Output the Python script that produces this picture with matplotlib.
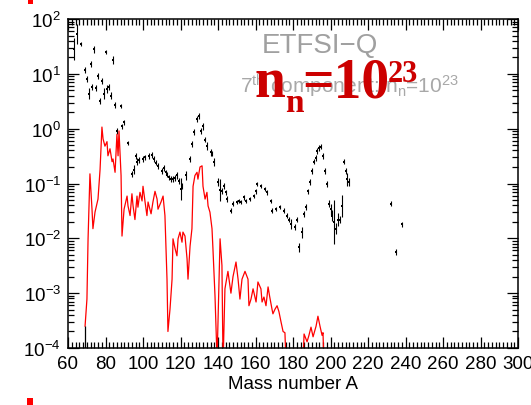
'''ETFSI-Q abundances vs mass number, 7th component n_n=1e23'''
import numpy as np
import matplotlib
matplotlib.use('Agg')
import matplotlib.pyplot as plt
from matplotlib.patches import Rectangle
from matplotlib.ticker import MultipleLocator, LogLocator, FixedLocator

plt.rcParams['font.family'] = ['Liberation Sans', 'DejaVu Sans']
plt.rcParams['mathtext.default'] = 'regular'

# observed (solar r-process) abundances with error bars, log10 error half width
obs_A = [63, 65, 67, 69, 70, 71, 72, 73, 74, 75, 76, 77, 78, 79, 80, 81, 82, 83,
         84, 85, 86, 88, 89, 90, 92, 94, 95, 96, 97, 98, 100, 101, 103, 105, 106,
         107, 108, 110, 111, 112, 113, 114, 115, 116, 117, 118, 119, 120, 121,
         123, 125, 126, 127, 129, 130, 131, 132, 133, 134, 136, 137, 138, 140,
         141, 142, 143, 144, 145, 147, 148, 150, 151, 152, 154, 155, 157, 159,
         160, 161, 163, 165, 166, 168, 169, 171, 173, 175, 177, 178, 179, 181,
         182, 183, 185, 186, 187, 188, 189, 190, 191, 192, 193, 194, 195, 196,
         197, 198, 199, 200, 201, 202, 203, 204, 205, 206, 207, 208, 209, 210,
         232, 235, 238]
obs_val = [28, 53, 35, 11.7, 8.1, 4.3, 15, 5.8, 28, 5.5, 9.1, 3.2, 7.4, 4.3, 25,
           5.3, 5.8, 4.0, 18, 2.7, 0.91, 2.6, 1.1, 1.3, 0.55, 0.15, 0.18, 0.32,
           0.25, 0.27, 0.28, 0.30, 0.32, 0.33, 0.28, 0.24, 0.21, 0.17, 0.19,
           0.16, 0.145, 0.13, 0.12, 0.12, 0.126, 0.14, 0.11, 0.079, 0.09, 0.14,
           0.28, 0.53, 0.87, 1.5, 1.7, 0.91, 1.1, 0.63, 0.48, 0.37, 0.35, 0.25,
           0.107, 0.076, 0.073, 0.09, 0.069, 0.052, 0.032, 0.043, 0.046, 0.048,
           0.046, 0.056, 0.048, 0.052, 0.059, 0.072, 0.098, 0.089, 0.079, 0.069,
           0.048, 0.032, 0.034, 0.037, 0.032, 0.026, 0.022, 0.018, 0.016, 0.022,
           0.0069, 0.013, 0.028, 0.037, 0.072, 0.107, 0.17, 0.25, 0.29, 0.39,
           0.44, 0.47, 0.32, 0.17, 0.098, 0.043, 0.034, 0.026, 0.020, 0.015,
           0.022, 0.022, 0.039, 0.25, 0.17, 0.12, 0.107, 0.043, 0.0056, 0.018]
obs_err = [0.20, 0.18, 0.04, 0.06, 0.05, 0.10, 0.06, 0.05, 0.06, 0.05, 0.05,
           0.06, 0.05, 0.10, 0.03, 0.08, 0.06, 0.06, 0.07, 0.05, 0.05, 0.04,
           0.04, 0.05, 0.04, 0.06, 0.08, 0.05, 0.06, 0.05, 0.05, 0.05, 0.05,
           0.05, 0.05, 0.05, 0.05, 0.05, 0.05, 0.05, 0.05, 0.05, 0.05, 0.05,
           0.05, 0.06, 0.05, 0.20, 0.06, 0.08, 0.05, 0.05, 0.06, 0.06, 0.05,
           0.06, 0.06, 0.05, 0.07, 0.06, 0.05, 0.07, 0.08, 0.20, 0.05, 0.05,
           0.05, 0.05, 0.05, 0.05, 0.04, 0.04, 0.04, 0.04, 0.04, 0.04, 0.04,
           0.04, 0.04, 0.04, 0.04, 0.04, 0.04, 0.04, 0.04, 0.04, 0.04, 0.05,
           0.05, 0.09, 0.05, 0.05, 0.08, 0.10, 0.05, 0.05, 0.05, 0.05, 0.05,
           0.05, 0.05, 0.05, 0.05, 0.05, 0.05, 0.06, 0.06, 0.06, 0.10, 0.10,
           0.40, 0.10, 0.12, 0.06, 0.20, 0.05, 0.06, 0.12, 0.08, 0.04, 0.05,
           0.05]

# calculated abundances of the 7th component (red curve)
calc_A = [69.1, 70.1, 70.7, 71.7, 72.8, 73.3, 74.4, 76.0, 77.1, 78.1, 78.7, 79.7,
          80.8, 81.3, 82.4, 83.5, 84.0, 85.1, 86.1, 86.7, 87.2, 88.3, 88.8, 89.9,
          91.5, 92.0, 93.1, 94.1, 94.7, 95.7, 96.8, 97.3, 98.4, 99.5, 100.0,
          101.1, 102.1, 102.7, 104.3, 105.3, 106.4, 107.5, 108.0, 109.6, 110.7,
          111.7, 112.8, 113.3, 114.4, 115.5, 116.0, 117.1, 118.1, 118.7, 119.7,
          120.8, 121.3, 122.4, 123.5, 124.0, 125.1, 126.1, 126.7, 127.7, 128.8,
          129.3, 130.4, 131.5, 132.0, 133.1, 134.1, 134.7, 135.7, 136.8, 137.3,
          138.4, 139.5, 140.0, 141.1, 142.1, 142.7, 143.7, 144.8, 145.3, 146.9,
          148.0, 149.6, 150.7, 151.7, 152.8, 154.4, 156.0, 156.5, 157.6, 158.7,
          160.3, 161.3, 162.9, 163.5, 164.5, 165.6, 166.7, 167.5, 168.8, 169.3,
          170.4, 171.5, 172.5, 173.6, 174.7, 175.7, 176.3, 180.0, 185.3, 185.9,
          187.5, 188.5, 189.6, 190.7, 192.3, 193.3, 194.4, 195.5, 196.0, 196.5]
calc_val = [2.5e-4, 7.8e-4, 9.8e-3, 0.15, 0.034, 0.015, 0.030, 0.052, 0.18, 1.07,
            0.65, 0.48, 0.58, 0.32, 0.43, 0.25, 0.28, 0.16, 0.79, 0.32, 0.91,
            0.14, 0.011, 0.034, 0.059, 0.039, 0.026, 0.065, 0.039, 0.022, 0.059,
            0.037, 0.069, 0.048, 0.089, 0.046, 0.026, 0.046, 0.028, 0.046, 0.072,
            0.052, 0.034, 0.046, 0.059, 0.026, 1.8e-3, 2.0e-4, 5.1e-4, 1.8e-3,
            9.8e-3, 6.5e-3, 4.8e-3, 9.8e-3, 0.013, 8.5e-3, 0.013, 0.011, 4.2e-3,
            1.8e-3, 7.2e-3, 0.015, 0.089, 0.14, 0.16, 0.12, 0.20, 0.21, 0.089,
            0.052, 0.069, 0.039, 0.030, 0.015, 6.5e-3, 8.9e-4, 6e-5, 3.0e-4,
            9.8e-3, 3.2e-3, 5e-5, 1.2e-3, 2.0e-3, 2.5e-3, 1.0e-3, 2.0e-3, 3.7e-3,
            1.8e-3, 7.8e-4, 1.8e-3, 2.5e-3, 1.8e-3, 5.9e-4, 7.8e-4, 1.2e-3,
            6.9e-4, 1.6e-3, 1.2e-3, 6.9e-4, 8.5e-4, 5.9e-4, 1.3e-3, 8.9e-4,
            5.1e-4, 4.2e-4, 5.1e-4, 5.9e-4, 4.6e-4, 3.0e-4, 2.0e-4, 1.9e-4, 5e-5,
            np.nan, 5e-5, 1.8e-4, 1.3e-4, 1.7e-4, 2.4e-4, 1.6e-4, 2.5e-4, 3.8e-4,
            2.5e-4, 1.7e-4, 1.9e-4, 5e-5]

x_ticks = [60, 80, 100, 120, 140, 160, 180, 200, 220, 240, 260, 280, 300]

W, H = 531, 406


def px(x, y):
    '''pixel position (from top left) to figure fraction'''
    return x / W, 1 - y / H


fig = plt.figure(figsize=(W / 100, H / 100), dpi=100)
ax = fig.add_axes([68 / W, 1 - 349 / H, 450 / W, 329 / H])

obs_val_arr = np.array(obs_val)
obs_err_arr = np.array(obs_err)
low = obs_val_arr - obs_val_arr * 10 ** (-obs_err_arr)
high = obs_val_arr * 10 ** obs_err_arr - obs_val_arr
ax.errorbar(obs_A, obs_val, yerr=[low, high], fmt='s', ms=2.0, mew=0,
            color='black', ecolor='black', elinewidth=0.8, capsize=1.1,
            capthick=0.8)

ax.plot(calc_A, calc_val, color='#ff0000', lw=0.9)
# black tick where the calculated curve starts
ax.vlines(calc_A[0], 1e-4, calc_val[0], color='black', lw=0.9)

ax.set_yscale('log')
ax.set_xlim(60, 300)
ax.set_ylim(1e-4, 1e2)
ax.xaxis.set_major_locator(FixedLocator(x_ticks))
ax.xaxis.set_minor_locator(MultipleLocator(2))
ax.yaxis.set_major_locator(LogLocator(base=10, numticks=10))
ax.yaxis.set_minor_locator(LogLocator(base=10, subs=np.arange(2, 10), numticks=20))
ax.yaxis.set_major_formatter(plt.FuncFormatter(
    lambda v, pos: '10$^{%s}$' % ('%d' % round(np.log10(v))).replace('-', '\u2212')))
ax.tick_params(which='both', direction='in', top=True, right=True,
               labelsize=13.5, width=0.9, color='black')
ax.tick_params(which='major', length=8, pad=5)
ax.tick_params(which='minor', length=4)
for sp in ax.spines.values():
    sp.set_linewidth(1.1)
ax.set_xlabel('Mass number A', fontsize=13.5, labelpad=2)

# labels printed in the plot
fig.text(*px(262, 53), 'ETFSI\u2212Q', fontsize=20, color='#a0a0a0',
         va='baseline', ha='left')
fig.text(*px(240, 93), '7$^{th}$ component: n$_n$=10$^{23}$', fontsize=15,
         color='#a8a8a8', va='baseline', ha='left')

red = '#cc0000'
serif = ['Liberation Serif', 'DejaVu Serif']
fig.text(*px(255, 97), 'n', fontsize=40, color=red, family=serif,
         weight='bold', va='baseline', ha='left', zorder=5)
fig.text(*px(285, 112), 'n', fontsize=24, color=red, family=serif,
         weight='bold', va='baseline', ha='left', zorder=5)
fig.text(*px(302, 98), '=10', fontsize=40, color=red, family=serif,
         weight='bold', va='baseline', ha='left', zorder=5)
fig.text(*px(388, 82), '23', fontsize=22, color=red, family=serif,
         weight='bold', va='baseline', ha='left', zorder=5)

# slide marks at the left edge
fig.add_artist(Rectangle(px(28, 5), 5 / W, 5 / H, color='#ff0000', lw=0))
fig.add_artist(Rectangle(px(27, 406), 6 / W, 7 / H, color='#ff0000', lw=0))

fig.savefig('out.png', dpi=100)
